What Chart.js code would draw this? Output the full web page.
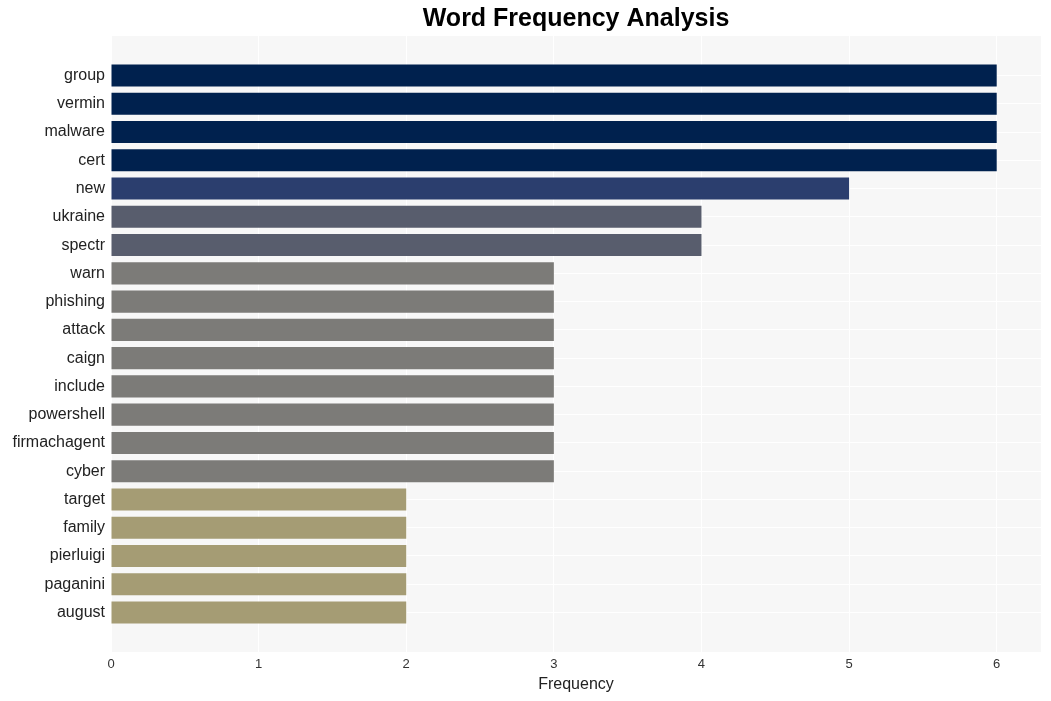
<!DOCTYPE html>
<html>
<head>
<meta charset="utf-8">
<script src="https://cdn.jsdelivr.net/npm/chart.js@4"></script>
<style>
  html, body { margin: 0; padding: 0; background: #fff; }
  #wrap { width: 1051px; height: 701px; }
</style>
</head>
<body>
<div id="wrap"><canvas id="freqChart" width="1051" height="701"></canvas></div>
<script>
const words = ['group', 'vermin', 'malware', 'cert', 'new', 'ukraine', 'spectr', 'warn', 'phishing', 'attack',
  'caign', 'include', 'powershell', 'firmachagent', 'cyber', 'target', 'family', 'pierluigi', 'paganini', 'august'];
const counts = [6, 6, 6, 6, 5, 4, 4, 3, 3, 3, 3, 3, 3, 3, 3, 2, 2, 2, 2, 2];
const xTicks = [0, 1, 2, 3, 4, 5, 6];

// colour by count
const palette = { 6: '#00214e', 5: '#2b3e6e', 4: '#585d6d', 3: '#7c7b78', 2: '#a59c74' };

// plot background + centred title
const plotBg = {
  id: 'plotBg',
  beforeDraw(chart) {
    const { ctx, chartArea: a } = chart;
    ctx.save();
    ctx.fillStyle = '#f7f7f7';
    ctx.fillRect(a.left, a.top, a.right - a.left, a.bottom - a.top);
    ctx.restore();
  },
  afterDraw(chart) {
    const { ctx, chartArea: a } = chart;
    ctx.save();
    ctx.font = 'bold 25px "Liberation Sans", Arial, sans-serif';
    ctx.fillStyle = '#000';
    ctx.textAlign = 'center';
    ctx.textBaseline = 'middle';
    ctx.fillText('Word Frequency Analysis', (a.left + a.right) / 2, 19);
    ctx.restore();
  }
};

new Chart(document.getElementById('freqChart'), {
  type: 'bar',
  data: {
    datasets: [{
      data: counts.map((c, i) => ({ x: c, y: i })),
      backgroundColor: counts.map(c => palette[c]),
      borderWidth: 0,
      barPercentage: 0.78,
      categoryPercentage: 1
    }]
  },
  options: {
    indexAxis: 'y',
    responsive: false,
    animation: false,
    layout: { padding: { top: 36, right: 10, left: 0, bottom: 0 } },
    plugins: {
      legend: { display: false },
      tooltip: { enabled: false }
    },
    scales: {
      x: {
        type: 'linear',
        min: 0,
        max: 6.3,
        afterBuildTicks: s => { s.ticks = xTicks.map(v => ({ value: v })); },
        grid: { color: '#ffffff', lineWidth: 1, drawTicks: false },
        border: { display: false },
        ticks: {
          color: '#333',
          font: { family: '"Liberation Sans", Arial, sans-serif', size: 13 },
          padding: 5
        },
        title: {
          display: true,
          text: 'Frequency',
          color: '#222',
          font: { family: '"Liberation Sans", Arial, sans-serif', size: 16 },
          padding: { top: 4, bottom: 7 }
        },
        afterFit: s => { s.height = 49; }
      },
      y: {
        type: 'linear',
        reverse: true,
        offset: false,
        min: -1.4,
        max: 20.4,
        afterBuildTicks: s => { s.ticks = words.map((w, i) => ({ value: i })); },
        grid: { color: '#ffffff', lineWidth: 1, drawTicks: false, offset: false },
        border: { display: false },
        ticks: {
          color: '#222',
          font: { family: '"Liberation Sans", Arial, sans-serif', size: 16 },
          padding: 6,
          autoSkip: false,
          callback: v => words[v]
        },
        afterFit: s => { s.width = 111; }
      }
    }
  },
  plugins: [plotBg]
});
</script>
</body>
</html>
